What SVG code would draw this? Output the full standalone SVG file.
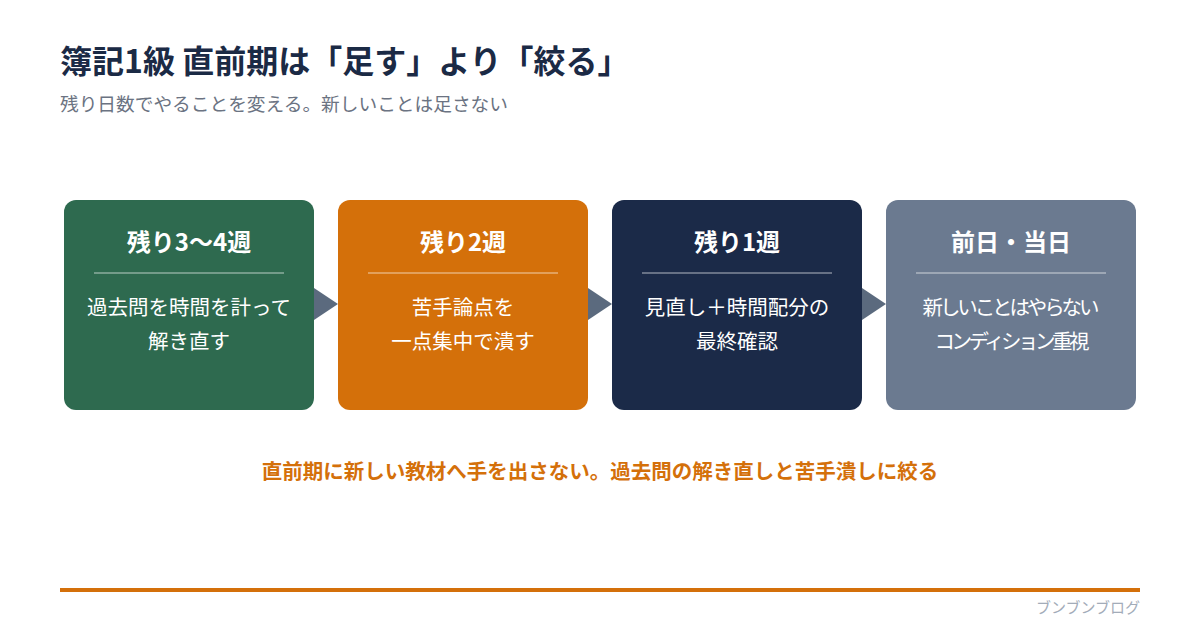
<svg xmlns="http://www.w3.org/2000/svg" width="1200" height="630" viewBox="0 0 1200 630">
<defs>
<style>
.t{font-family:"Noto Sans CJK JP","Noto Sans",sans-serif}
.title{font-size:32px;font-weight:700;fill:#1b2a45}
.sub{font-size:18.7px;fill:#6b7382}
.bt{font-size:24px;font-weight:700;fill:#ffffff;text-anchor:middle}
.bb{font-size:20.5px;fill:#ffffff;text-anchor:middle}
.div{stroke:#ffffff;stroke-opacity:0.45;stroke-width:1.5}
.key{font-size:20.5px;font-weight:700;fill:#d4700a;text-anchor:middle}
.foot{font-size:15px;fill:#a3acb9;text-anchor:end}
.arr{fill:#5b6a7e}
</style>
</defs>
<rect width="1200" height="630" fill="#ffffff"/>
<text class="t title" x="60" y="73">簿記1級 直前期は「足す」より「絞る」</text>
<text class="t sub" x="60" y="111">残り日数でやることを変える。新しいことは足さない</text>
<g id="connectors">
<polygon class="arr" points="314,288 338,304 314,320"/>
<polygon class="arr" points="588,288 612,304 588,320"/>
<polygon class="arr" points="862,288 886,304 862,320"/>
</g>
<g id="node1">
<rect x="64" y="200" width="250" height="210" rx="12" fill="#2e6a4f"/>
<text class="t bt" x="189" y="251">残り3〜4週</text>
<line class="div" x1="94" y1="273" x2="284" y2="273"/>
<text class="t bb" x="189" y="315">過去問を時間を計って</text>
<text class="t bb" x="189" y="349">解き直す</text>
</g>
<g id="node2">
<rect x="338" y="200" width="250" height="210" rx="12" fill="#d4700a"/>
<text class="t bt" x="463" y="251">残り2週</text>
<line class="div" x1="368" y1="273" x2="558" y2="273"/>
<text class="t bb" x="463" y="315">苦手論点を</text>
<text class="t bb" x="463" y="349">一点集中で潰す</text>
</g>
<g id="node3">
<rect x="612" y="200" width="250" height="210" rx="12" fill="#1b2a48"/>
<text class="t bt" x="737" y="251">残り1週</text>
<line class="div" x1="642" y1="273" x2="832" y2="273"/>
<text class="t bb" x="737" y="315">見直し＋時間配分の</text>
<text class="t bb" x="737" y="349">最終確認</text>
</g>
<g id="node4">
<rect x="886" y="200" width="250" height="210" rx="12" fill="#6b7a90"/>
<text class="t bt" x="1011" y="251">前日・当日</text>
<line class="div" x1="916" y1="273" x2="1106" y2="273"/>
<text class="t bb" x="1011" y="315" textLength="177" lengthAdjust="spacing">新しいことはやらない</text>
<text class="t bb" x="1012" y="349" textLength="155" lengthAdjust="spacing">コンディション重視</text>
</g>
<text class="t key" x="600" y="479">直前期に新しい教材へ手を出さない。過去問の解き直しと苦手潰しに絞る</text>
<rect x="60" y="588" width="1080" height="4" fill="#d4700a"/>
<text class="t foot" x="1140" y="613">ブンブンブログ</text>
</svg>
